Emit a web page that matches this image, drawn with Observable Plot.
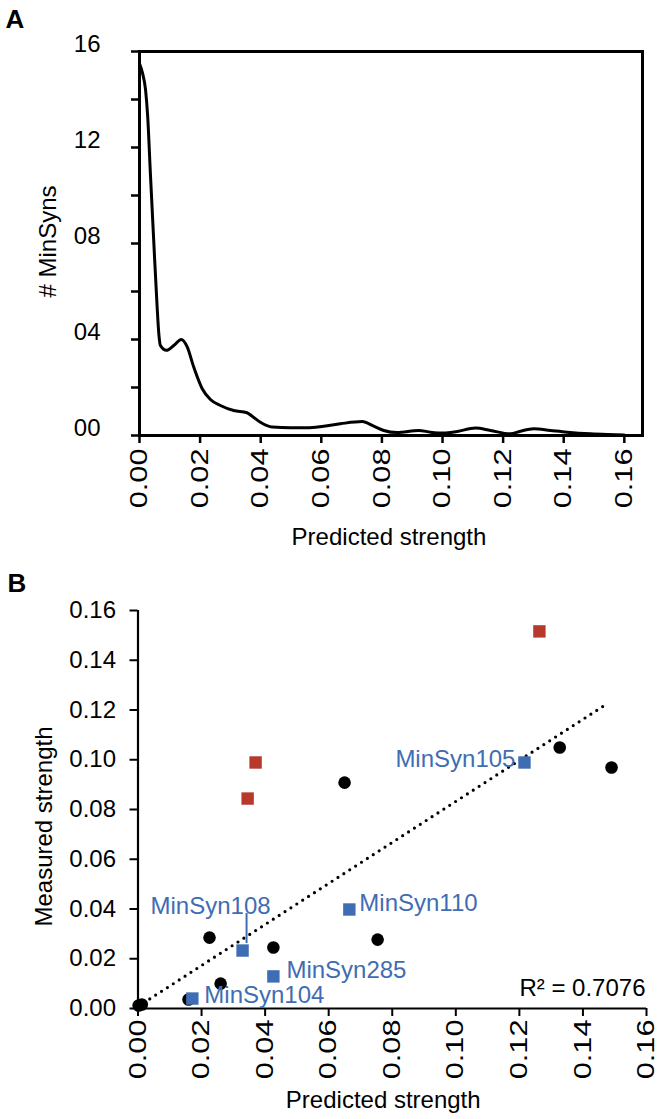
<!DOCTYPE html>
<html><head><meta charset="utf-8">
<script src="https://cdn.jsdelivr.net/npm/d3@7"></script>
<script src="https://cdn.jsdelivr.net/npm/@observablehq/plot@0.6"></script>
<style>
html,body{margin:0;padding:0;background:#fff}
#c svg{display:block}
</style>
</head><body><div id="c"></div>
<script>
// ---- Panel A data: density of predicted strength ----
const densityX = [0, 0.0010, 0.0020, 0.0027, 0.0036, 0.0047, 0.0058, 0.0064, 0.0069, 0.0089, 0.0113, 0.0138, 0.0157, 0.0179, 0.0207, 0.0234, 0.0267, 0.0311, 0.0355, 0.0372, 0.0399, 0.0438, 0.0498, 0.0553, 0.0608, 0.0663, 0.0735, 0.0773, 0.0806, 0.0850, 0.0922, 0.0960, 0.1004, 0.1049, 0.1109, 0.1158, 0.1224, 0.1257, 0.1301, 0.1356, 0.1411, 0.1488, 0.1544, 0.1600];
const densityY = [15.5, 15.1, 14.4, 13.3, 10.9, 8.1, 5.4, 4.2, 3.75, 3.55, 3.75, 4.0, 3.7, 2.85, 1.95, 1.5, 1.25, 1.04, 0.95, 0.8, 0.55, 0.35, 0.32, 0.32, 0.39, 0.49, 0.58, 0.39, 0.21, 0.12, 0.21, 0.14, 0.10, 0.17, 0.31, 0.21, 0.07, 0.18, 0.28, 0.21, 0.14, 0.07, 0.04, 0.02];
const yTicksA = [0, 2, 4, 6, 8, 10, 12, 14, 16];
const yLabelTicksA = [0, 4, 8, 12, 16];
const yLabelsA = ["00", "04", "08", "12", "16"];
const xTicksA = [0, 0.02, 0.04, 0.06, 0.08, 0.10, 0.12, 0.14, 0.16];

// ---- Panel B data ----
const blackX = [0.0002, 0.0012, 0.0159, 0.0225, 0.0260, 0.0426, 0.0650, 0.0754, 0.1327, 0.1490];
const blackY = [0.0012, 0.0016, 0.0036, 0.0285, 0.0100, 0.0245, 0.0908, 0.0277, 0.1049, 0.0969];
const redX = [0.0345, 0.0370, 0.1263];
const redY = [0.0844, 0.0989, 0.1516];
const blueNames = ["MinSyn105", "MinSyn110", "MinSyn108", "MinSyn285", "MinSyn104"];
const blueX = [0.1216, 0.0665, 0.0329, 0.0426, 0.0171];
const blueY = [0.0989, 0.0398, 0.0233, 0.0129, 0.0040];
const trendX = [0, 0.1477];
const trendY = [0.0008, 0.1226];
const ticksB = [0, 0.02, 0.04, 0.06, 0.08, 0.10, 0.12, 0.14, 0.16];
const r2Text = "R\u00B2 = 0.7076";

const FONT = "'Liberation Sans', Arial, Helvetica, sans-serif";
const RED = "#b8392b", BLUE = "#3f6db3";

const density = densityX.map((x, i) => ({x, y: densityY[i]}));
const fmt2 = d3.format(".2f");

const plotA = Plot.plot({
  width: 662, height: 560,
  marginLeft: 139, marginRight: 20, marginTop: 51, marginBottom: 125,
  style: {fontFamily: FONT, fontSize: "24px", color: "#000", background: "#fff"},
  x: {domain: [0, 0.166]},
  y: {domain: [0, 16]},
  marks: [
    Plot.axisY({ticks: yTicksA, tickSize: 8, tickFormat: () => "", strokeWidth: 2.5, label: null}),
    Plot.axisY({ticks: yLabelTicksA, tickSize: 0, tickPadding: 39, dy: -7,
      tickFormat: d => yLabelsA[yLabelTicksA.indexOf(d)], label: null}),
    Plot.axisX({ticks: xTicksA, tickSize: 8, tickPadding: 5, tickRotate: -90, tickFormat: fmt2, strokeWidth: 2.5, label: null}),
    Plot.frame({stroke: "#000", strokeWidth: 3}),
    Plot.line(density, {x: "x", y: "y", curve: "monotone-x", stroke: "#000", strokeWidth: 3}),
    Plot.text(["# MinSyns"], {frameAnchor: "left", textAnchor: "middle", lineAnchor: "middle", dx: -91, dy: -2, rotate: -90, fontSize: 24}),
    Plot.text(["Predicted strength"], {frameAnchor: "bottom", textAnchor: "middle", lineAnchor: "middle", dy: 102, dx: -2, fontSize: 24}),
    Plot.text(["A"], {frameAnchor: "top-left", textAnchor: "start", lineAnchor: "bottom", dx: -134, dy: -24, fontSize: 26, fontWeight: "bold"})
  ]
});

const black = blackX.map((x, i) => ({x, y: blackY[i]}));
const red = redX.map((x, i) => ({x, y: redY[i]}));
const blue = blueNames.map((name, i) => ({name, x: blueX[i], y: blueY[i]}));
const trend = trendX.map((x, i) => ({x, y: trendY[i]}));
const pick = n => blue.filter(d => n.includes(d.name));

const plotB = Plot.plot({
  width: 662, height: 559,
  marginLeft: 137.5, marginRight: 16, marginTop: 50, marginBottom: 111,
  style: {fontFamily: FONT, fontSize: "24px", color: "#000", background: "#fff"},
  x: {domain: [0, 0.16]},
  y: {domain: [0, 0.16]},
  marks: [
    Plot.axisY({ticks: ticksB, tickSize: 8, tickPadding: 14, tickFormat: fmt2, strokeWidth: 2, label: null}),
    Plot.axisX({ticks: ticksB, tickSize: 8, tickPadding: 3, tickRotate: -90, tickFormat: fmt2, strokeWidth: 2, label: null}),
    Plot.ruleX([0], {stroke: "#000", strokeWidth: 2.2}),
    Plot.ruleY([0], {stroke: "#000", strokeWidth: 2.2}),
    Plot.line(trend, {x: "x", y: "y", stroke: "#000", strokeWidth: 3.2, strokeDasharray: "0,7", strokeLinecap: "round"}),
    Plot.dot(black, {x: "x", y: "y", r: 6.3, fill: "#000"}),
    Plot.dot(red, {x: "x", y: "y", r: 7, symbol: "square", fill: RED}),
    Plot.dot(blue, {x: "x", y: "y", r: 7, symbol: "square", fill: BLUE}),
    Plot.ruleX(pick(["MinSyn108"]), {x: "x", y1: d => d.y + 0.0028, y2: d => d.y + 0.0149, dx: 4, stroke: BLUE, strokeWidth: 2}),
    Plot.text(pick(["MinSyn105"]), {x: "x", y: "y", text: "name", textAnchor: "end", dx: -9, dy: -3, fill: BLUE}),
    Plot.text(pick(["MinSyn110"]), {x: "x", y: "y", text: "name", textAnchor: "start", dx: 10, dy: -6, fill: BLUE}),
    Plot.text(pick(["MinSyn285"]), {x: "x", y: "y", text: "name", textAnchor: "start", dx: 13, dy: -6, fill: BLUE}),
    Plot.text(pick(["MinSyn104"]), {x: "x", y: "y", text: "name", textAnchor: "start", dx: 12, dy: -3, fill: BLUE}),
    Plot.text(pick(["MinSyn108"]), {x: "x", y: "y", text: "name", textAnchor: "middle", dx: -32, dy: -44, fill: BLUE}),
    Plot.text([r2Text], {frameAnchor: "bottom-right", textAnchor: "end", lineAnchor: "middle", dx: -1, dy: -20, fontSize: 24}),
    Plot.text(["Measured strength"], {frameAnchor: "left", textAnchor: "middle", lineAnchor: "middle", dx: -94, dy: 17, rotate: -90, fontSize: 24}),
    Plot.text(["Predicted strength"], {frameAnchor: "bottom", textAnchor: "middle", lineAnchor: "middle", dy: 92, dx: -9, fontSize: 24}),
    Plot.text(["B"], {frameAnchor: "top-left", textAnchor: "start", lineAnchor: "bottom", dx: -130.5, dy: -19, fontSize: 26, fontWeight: "bold"})
  ]
});

// rotated x tick labels in the original are drawn longer (stretched along the text)
for (const svg of [plotA, plotB]) {
  svg.querySelectorAll('g[aria-label="x-axis tick label"] text').forEach(t => {
    const tr = t.getAttribute("transform") || "";
    t.setAttribute("transform", tr + " scale(1.28,1)");
  });
}

const c = document.getElementById("c");
c.appendChild(plotA);
c.appendChild(plotB);
</script>
</body></html>
